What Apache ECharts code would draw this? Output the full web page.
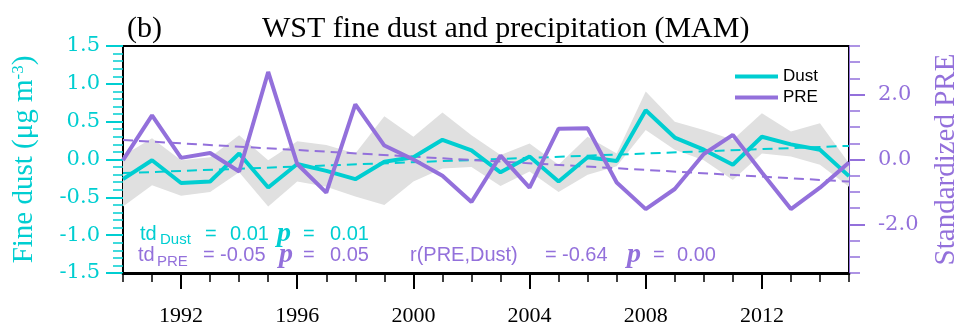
<!DOCTYPE html>
<html>
<head>
<meta charset="utf-8">
<script src="https://cdn.jsdelivr.net/npm/echarts@6/dist/echarts.min.js"></script>
<style>
  html, body { margin: 0; padding: 0; background: #fff; }
  #chart { width: 960px; height: 323px; }
</style>
</head>
<body>
<div id="chart"></div>
<script>
// 数据
var years = [1990, 1991, 1992, 1993, 1994, 1995, 1996, 1997, 1998, 1999, 2000, 2001, 2002,
             2003, 2004, 2005, 2006, 2007, 2008, 2009, 2010, 2011, 2012, 2013, 2014, 2015];
var dust = [-0.26, -0.01, -0.31, -0.29, 0.08, -0.37, -0.06, -0.15, -0.26, -0.03, 0.03, 0.26, 0.12,
            -0.17, 0.04, -0.29, 0.03, -0.02, 0.65, 0.29, 0.13, -0.07, 0.30, 0.20, 0.13, -0.22];
var pre = [-0.02, 1.36, 0.05, 0.20, -0.37, 2.70, -0.14, -1.02, 1.70, 0.43, 0.00, -0.50, -1.31,
           0.12, -0.87, 0.95, 0.96, -0.71, -1.53, -0.91, 0.17, 0.76, -0.40, -1.53, -0.87, -0.09];
var bandUpper = [0.05, 0.28, -0.01, 0.03, 0.32, -0.01, 0.24, 0.19, 0.08, 0.57, 0.30, 0.62, 0.32,
                 0.06, 0.21, -0.07, 0.30, 0.08, 0.90, 0.50, 0.39, 0.26, 0.61, 0.37, 0.48, -0.05];
var bandLower = [-0.62, -0.34, -0.48, -0.43, -0.17, -0.62, -0.29, -0.36, -0.49, -0.60, -0.29, -0.12, -0.10,
                 -0.35, -0.16, -0.43, -0.20, -0.09, 0.39, 0.13, -0.01, -0.27, 0.08, 0.04, -0.07, -0.36];
// 线性趋势（首尾两点）
var trendYears = [1990, 2015];
var dustTrend = [-0.18, 0.18];
var preTrend = [0.60, -0.68];
// 刻度
var xLabelYears = [1992, 1996, 2000, 2004, 2008, 2012];
var preLabelTicks = [-2, 0, 2];

var TEAL = '#00CED1';
var PURPLE = '#9370DB';
var SERIF = 'Liberation Serif';
var SANS = 'Liberation Sans';
var TICKFONT = 'DejaVu Serif';

function pairs(xs, ys) {
    return xs.map(function (x, i) { return [x, ys[i]]; });
}

// 注释文字（td、p、r）
function txt(x, y, text, color, size, font, weight, style) {
    return {
        type: 'text', x: x, y: y, silent: true,
        style: {
            text: text, fill: color, fontSize: size,
            fontFamily: font || SANS, fontWeight: weight || 'normal', fontStyle: style || 'normal',
            verticalAlign: 'middle'
        }
    };
}
var notes = [
    txt(140, 234, 'td', TEAL, 20), txt(160, 240, 'Dust', TEAL, 15),
    txt(205, 234, '=', TEAL, 20), txt(230, 234, '0.01', TEAL, 20),
    txt(277, 234, 'p', TEAL, 28, SERIF, 'bold', 'italic'),
    txt(303, 234, '=', TEAL, 20), txt(330, 234, '0.01', TEAL, 20),

    txt(138, 255, 'td', PURPLE, 20), txt(157, 262, 'PRE', PURPLE, 15),
    txt(203, 255, '=', PURPLE, 20), txt(220, 255, '-0.05', PURPLE, 20),
    txt(279, 255, 'p', PURPLE, 28, SERIF, 'bold', 'italic'),
    txt(303, 255, '=', PURPLE, 20), txt(330, 255, '0.05', PURPLE, 20),
    txt(410, 255, 'r(PRE,Dust)', PURPLE, 20),
    txt(545, 255, '=', PURPLE, 20), txt(562, 255, '-0.64', PURPLE, 20),
    txt(627, 255, 'p', PURPLE, 28, SERIF, 'bold', 'italic'),
    txt(653, 255, '=', PURPLE, 20), txt(677, 255, '0.00', PURPLE, 20)
];

var chart = echarts.init(document.getElementById('chart'), null, { renderer: 'canvas' });

var option = {
    animation: false,
    backgroundColor: '#fff',
    title: [{
        text: '(b)', left: 122, top: 9,
        textStyle: { fontFamily: SERIF, fontSize: 30, fontWeight: 'normal', color: '#000' }
    }, {
        text: 'WST fine dust and precipitation (MAM)', left: 257, top: 9,
        textStyle: { fontFamily: SERIF, fontSize: 30, fontWeight: 'normal', color: '#000' }
    }],
    grid: {
        left: 123, right: 111, top: 46, bottom: 50,
        outerBoundsMode: 'none', containLabel: false,
        show: true, borderColor: '#000', borderWidth: 2, backgroundColor: 'transparent'
    },
    legend: {
        data: ['Dust', 'PRE'],
        orient: 'vertical', left: 735, top: 68, padding: 0,
        icon: 'rect', itemWidth: 43, itemHeight: 4, itemGap: 4,
        textStyle: { fontFamily: SANS, fontSize: 17, color: '#000' }
    },
    xAxis: [{
        // 每年的小刻度
        type: 'value', min: 1990, max: 2015, interval: 1,
        axisLine: { show: false, onZero: false },
        axisTick: { show: true, inside: false, length: 9, lineStyle: { color: '#000', width: 1.5 } },
        axisLabel: { show: false },
        splitLine: { show: false }
    }, {
        // 四年一次的大刻度和标签
        type: 'value', min: 1990, max: 2015, position: 'bottom',
        axisLine: { show: true, onZero: false, lineStyle: { color: '#000', width: 3 } },
        axisTick: { show: true, length: 16, customValues: xLabelYears, lineStyle: { color: '#000', width: 2 } },
        axisLabel: {
            customValues: xLabelYears, margin: 32,
            fontFamily: SERIF, fontSize: 22, color: '#000',
            formatter: function (v) { return String(v); }
        },
        splitLine: { show: false }
    }],
    yAxis: [{
        type: 'value', min: -1.5, max: 1.5, interval: 0.5, position: 'left',
        name: 'Fine dust (μg m{sup|-3})',
        nameLocation: 'middle', nameGap: 84, nameRotate: 90,
        nameTextStyle: {
            fontFamily: SERIF, fontSize: 29, color: TEAL,
            rich: { sup: { fontFamily: SERIF, fontSize: 17, color: TEAL, verticalAlign: 'top', padding: [0, 0, 12, 0] } }
        },
        axisLine: { show: false, onZero: false },
        axisTick: { show: true, length: 17, lineStyle: { color: TEAL, width: 2 } },
        minorTick: { show: true, splitNumber: 5, length: 10, lineStyle: { color: TEAL, width: 1.5 } },
        axisLabel: {
            margin: 23, fontFamily: TICKFONT, fontSize: 21, color: TEAL,
            formatter: function (v) { return v.toFixed(1); }
        },
        splitLine: { show: false }, minorSplitLine: { show: false }
    }, {
        // 右轴小刻度
        type: 'value', min: -3.5, max: 3.5, interval: 0.5, position: 'right',
        axisLine: { show: true, onZero: false, lineStyle: { color: PURPLE, width: 1 } },
        axisTick: { show: true, length: 11, lineStyle: { color: PURPLE, width: 1.5 } },
        axisLabel: { show: false },
        splitLine: { show: false }
    }, {
        // 右轴大刻度和标签
        type: 'value', min: -3.5, max: 3.5, interval: 0.5, position: 'right',
        name: 'Standardized PRE',
        nameLocation: 'middle', nameGap: 83, nameRotate: 90,
        nameTextStyle: { fontFamily: SERIF, fontSize: 29, color: PURPLE },
        axisLine: { show: false, onZero: false },
        axisTick: { show: true, length: 16, customValues: preLabelTicks, lineStyle: { color: PURPLE, width: 2 } },
        axisLabel: {
            customValues: preLabelTicks, margin: 29,
            fontFamily: TICKFONT, fontSize: 21, color: PURPLE,
            formatter: function (v) { return v.toFixed(1); }
        },
        splitLine: { show: false }
    }],
    graphic: notes,
    series: [{
        // 灰色范围带
        name: 'range', type: 'custom', xAxisIndex: 0, yAxisIndex: 0, z: 1, silent: true,
        data: years.map(function (y, i) { return [y, bandLower[i], bandUpper[i]]; }),
        encode: { x: 0, y: [1, 2] },
        renderItem: function (params, api) {
            if (params.dataIndex !== 0) return;
            var pts = [];
            years.forEach(function (y, i) { pts.push(api.coord([y, bandUpper[i]])); });
            for (var i = years.length - 1; i >= 0; i--) pts.push(api.coord([years[i], bandLower[i]]));
            return {
                type: 'polygon',
                shape: { points: pts },
                style: { fill: '#e0e0e0', stroke: null }
            };
        }
    }, {
        name: 'DustTrend', type: 'line', xAxisIndex: 0, yAxisIndex: 0, z: 3,
        data: pairs(trendYears, dustTrend), symbol: 'none', silent: true,
        lineStyle: { color: TEAL, width: 2, type: [10, 6] }
    }, {
        name: 'PRETrend', type: 'line', xAxisIndex: 0, yAxisIndex: 1, z: 3,
        data: pairs(trendYears, preTrend), symbol: 'none', silent: true,
        lineStyle: { color: PURPLE, width: 2, type: [10, 6] }
    }, {
        name: 'Dust', type: 'line', xAxisIndex: 0, yAxisIndex: 0, z: 4,
        data: pairs(years, dust), symbol: 'none',
        itemStyle: { color: TEAL },
        lineStyle: { color: TEAL, width: 4 }
    }, {
        name: 'PRE', type: 'line', xAxisIndex: 0, yAxisIndex: 1, z: 5,
        data: pairs(years, pre), symbol: 'none',
        itemStyle: { color: PURPLE },
        lineStyle: { color: PURPLE, width: 4 }
    }]
};

chart.setOption(option);
</script>
</body>
</html>
